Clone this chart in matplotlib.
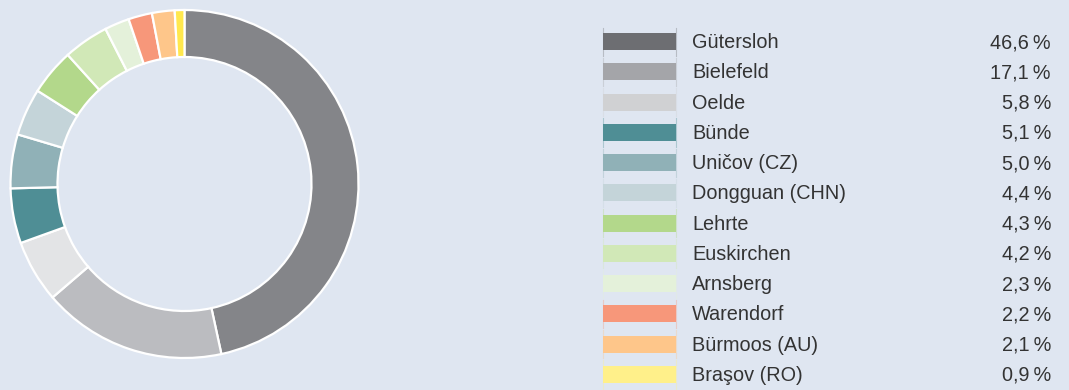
import matplotlib
matplotlib.use('Agg')
import matplotlib.pyplot as plt
from matplotlib.patches import Rectangle

# Standorte und Anteile in Prozent
sites = ['Gütersloh', 'Bielefeld', 'Oelde', 'Bünde', 'Uničov (CZ)',
         'Dongguan (CHN)', 'Lehrte', 'Euskirchen', 'Arnsberg',
         'Warendorf', 'Bürmoos (AU)', 'Braşov (RO)']
shares = [46.6, 17.1, 5.8, 5.1, 5.0, 4.4, 4.3, 4.2, 2.3, 2.2, 2.1, 0.9]

ring_colors = ['#848589', '#bbbcc0', '#e3e4e6', '#4f8e95', '#90b1b7',
               '#c4d4d9', '#b3d88b', '#d1e8b7', '#e4f1da', '#f7977a',
               '#fec68a', '#ffe84d']
swatch_colors = ['#6d6e72', '#a4a5a9', '#d0d1d3', '#4f8e95', '#90b1b7',
                 '#c4d4d9', '#b3d88b', '#d1e8b7', '#e4f1da', '#f7977a',
                 '#fec68a', '#fff08a']

BG = '#dfe6f1'
W, H = 1069, 390
fig = plt.figure(figsize=(W / 100, H / 100), dpi=100, facecolor=BG)

# donut, axes in pixel units
cx, cy, half = 184.5, H - 184, 180
ax = fig.add_axes([(cx - half) / W, (cy - half) / H, 2 * half / W, 2 * half / H])
ax.set_facecolor(BG)
ax.pie(shares, colors=ring_colors, radius=174, startangle=90, counterclock=False,
       wedgeprops=dict(width=47, edgecolor='white', linewidth=1.6))
ax.set_xlim(-half, half)
ax.set_ylim(-half, half)
ax.set_aspect('equal')
ax.axis('off')

# legend table
lg = fig.add_axes([0, 0, 1, 1])
lg.set_xlim(0, W)
lg.set_ylim(H, 0)
lg.axis('off')

y0, step = 41.7, 30.25
x_l, x_r = 603, 676
font = ['Liberation Sans', 'DejaVu Sans']
for i, (name, val) in enumerate(zip(sites, shares)):
    y = y0 + i * step
    lg.add_patch(Rectangle((x_l, y - 8.5), x_r - x_l, 17, facecolor=swatch_colors[i],
                           edgecolor='none'))
    # faint cell borders
    for x in (x_l, x_r):
        lg.plot([x, x], [y - step / 2 + 1, y + step / 2 - 1], color=swatch_colors[i],
                lw=0.8, alpha=0.35)
    lg.text(692, y + 1, name, fontsize=14.3, color='#333333', va='center', ha='left',
            family=font)
    lg.text(1051, y + 1, f'{val:.1f}'.replace('.', ',') + '\u2009%', fontsize=14.3,
            color='#333333', va='center', ha='right', family=font)

fig.savefig('out.png', dpi=100, facecolor=BG)
